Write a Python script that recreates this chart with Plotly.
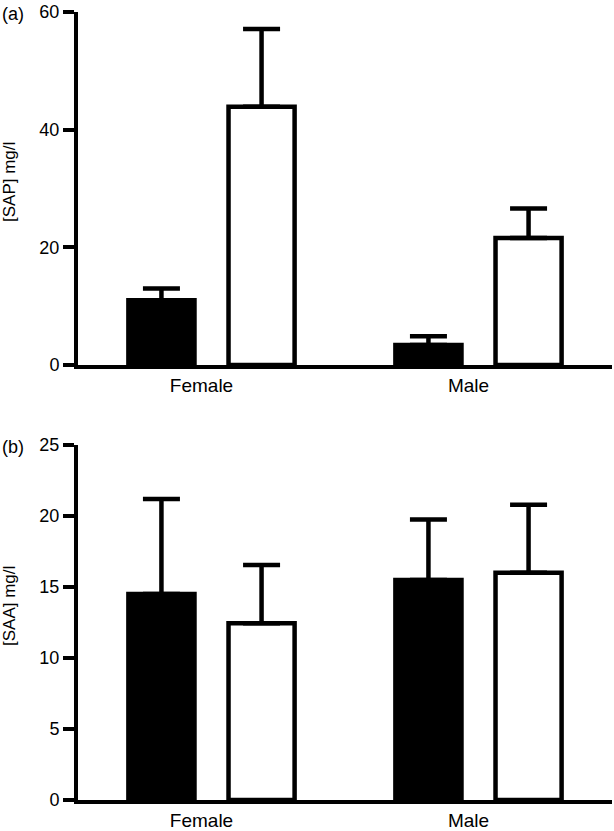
import plotly.graph_objects as go
from plotly.subplots import make_subplots

categories = ["Female", "Male"]

# Panel (a): SAP
sap_black = [11.0, 3.4]
sap_black_err = [2.0, 1.5]
sap_white = [43.9, 21.6]
sap_white_err = [13.2, 5.0]

# Panel (b): SAA
saa_black = [14.5, 15.5]
saa_black_err = [6.7, 4.25]
saa_white = [12.45, 16.0]
saa_white_err = [4.1, 4.8]

sap_ticks = [0, 20, 40, 60]
saa_ticks = [0, 5, 10, 15, 20, 25]

W, H = 614, 831
L, R = 78, 2
PW = W - L - R
FONT = "Liberation Sans, Arial, Helvetica, sans-serif"

fig = make_subplots(rows=2, cols=1)


def add_pair(row, black, black_err, white, white_err):
    err_style = dict(type="data", symmetric=False, arrayminus=[0, 0],
                     color="black", thickness=4.5, width=18.5)
    fig.add_trace(go.Bar(x=categories, y=black,
                         marker=dict(color="black", line=dict(color="black", width=4.5)),
                         error_y=dict(array=black_err, **err_style), showlegend=False,
                         hoverinfo="skip"), row=row, col=1)
    fig.add_trace(go.Bar(x=categories, y=white,
                         marker=dict(color="white", line=dict(color="black", width=4.5)),
                         error_y=dict(array=white_err, **err_style), showlegend=False,
                         hoverinfo="skip"), row=row, col=1)


add_pair(1, sap_black, sap_black_err, sap_white, sap_white_err)
add_pair(2, saa_black, saa_black_err, saa_white, saa_white_err)


def px_dom(top_px, bot_px):
    return [1 - bot_px / H, 1 - top_px / H]


axis_common = dict(showline=True, linecolor="black", linewidth=4, showgrid=False, zeroline=False,
                   automargin=False, fixedrange=True)
xcommon = dict(domain=[0, 1], range=[-0.5, 1.5], ticks="", ticklabelshift=-10,
               tickfont=dict(family=FONT, size=19, color="black"), **axis_common)
ycommon = dict(ticks="outside", ticklen=11, tickwidth=4, tickcolor="black",
               tickfont=dict(family=FONT, size=18, color="black"), **axis_common)

fig.update_layout(
    width=W, height=H,
    margin=dict(l=L, r=R, t=0, b=0),
    paper_bgcolor="white", plot_bgcolor="white",
    barmode="group", bargap=0.25, bargroupgap=0.34,
    font=dict(family=FONT, color="black"),
    xaxis=dict(**xcommon),
    xaxis2=dict(**xcommon),
    yaxis=dict(domain=px_dom(12, 365), range=[0, 60], tickvals=sap_ticks, **ycommon),
    yaxis2=dict(domain=px_dom(445, 800), range=[0, 25], tickvals=saa_ticks, **ycommon),
)


def px_x(px):
    return (px - L) / PW


def px_y(py):
    return 1 - py / H


ann_font = dict(family=FONT, size=17, color="black")
fig.add_annotation(text="(a)", xref="paper", yref="paper", x=px_x(0), y=px_y(14),
                   xanchor="left", yanchor="middle", showarrow=False,
                   font=dict(family=FONT, size=18, color="black"))
fig.add_annotation(text="(b)", xref="paper", yref="paper", x=px_x(0), y=px_y(447),
                   xanchor="left", yanchor="middle", showarrow=False,
                   font=dict(family=FONT, size=18, color="black"))
fig.add_annotation(text="[SAP] mg/l", xref="paper", yref="paper", x=px_x(9), y=px_y(182),
                   xanchor="center", yanchor="middle", textangle=-90, showarrow=False, font=ann_font)
fig.add_annotation(text="[SAA] mg/l", xref="paper", yref="paper", x=px_x(9), y=px_y(606),
                   xanchor="center", yanchor="middle", textangle=-90, showarrow=False, font=ann_font)

fig.write_html("out.html", config={"displayModeBar": False},
               post_script="document.body.style.margin='0px';")
